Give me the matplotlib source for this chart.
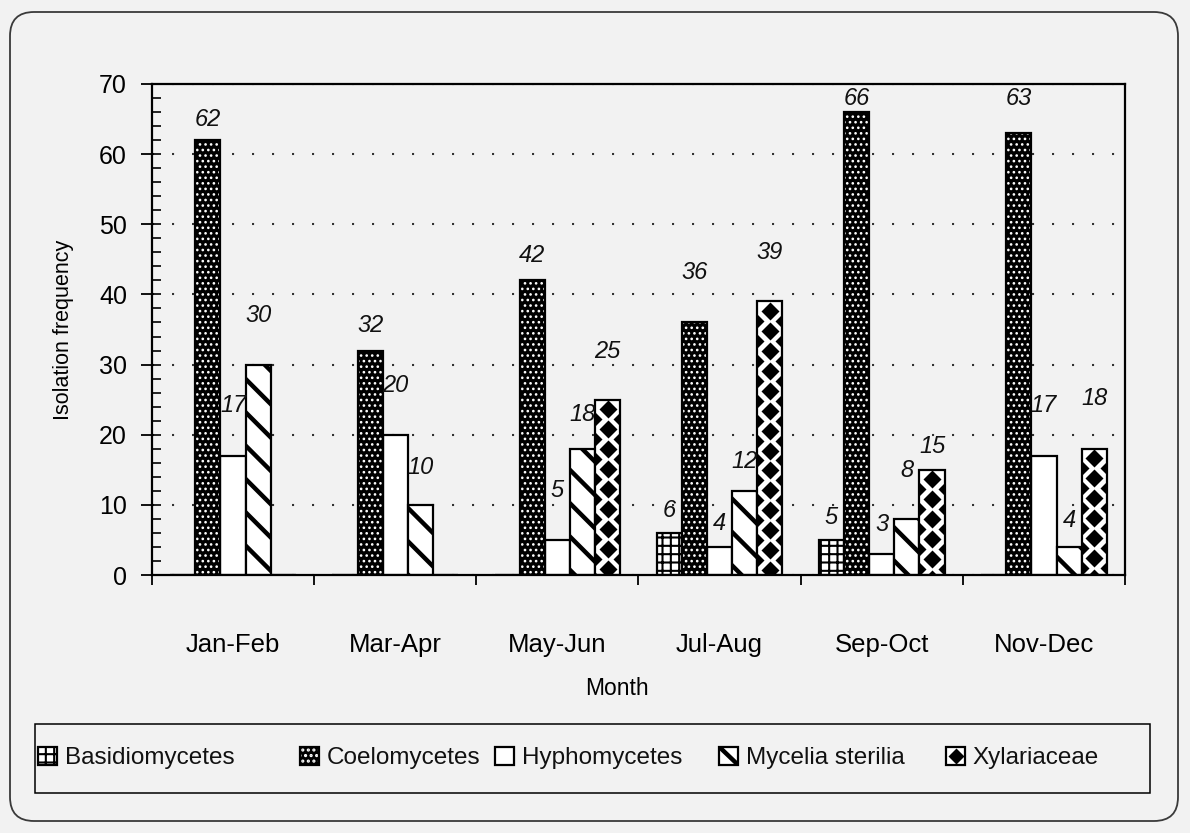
import numpy as np
import matplotlib
matplotlib.use("Agg")
import matplotlib.pyplot as plt
from matplotlib.patches import FancyBboxPatch, Rectangle
from matplotlib.lines import Line2D
from matplotlib.legend_handler import HandlerTuple, HandlerBase
from matplotlib.ticker import MultipleLocator, FixedLocator
from matplotlib.transforms import IdentityTransform

# ---- data -------------------------------------------------------------
months = ["Jan-Feb", "Mar-Apr", "May-Jun", "Jul-Aug", "Sep-Oct", "Nov-Dec"]
series_names = ["Basidiomycetes", "Coelomycetes", "Hyphomycetes",
                "Mycelia sterilia", "Xylariaceae"]
basidiomycetes = [0, 0, 0, 6, 5, 0]
coelomycetes = [62, 32, 42, 36, 66, 63]
hyphomycetes = [17, 20, 5, 4, 3, 17]
mycelia_sterilia = [30, 10, 18, 12, 8, 4]
xylariaceae = [0, 0, 25, 39, 15, 18]

# how far (in y units) each value label sits above its bar
label_lift = [
    [0, 0, 0, 3.2, 3.2, 0],
    [2.9, 3.5, 3.6, 7.1, 1.9, 4.9],
    [7.1, 7.0, 7.0, 3.3, 4.2, 7.1],
    [7.0, 5.3, 4.9, 4.2, 6.9, 3.8],
    [0, 0, 6.9, 7.0, 3.3, 7.1],
]

BG = "#f2f2f2"
plt.rcParams["font.family"] = ["Liberation Sans", "DejaVu Sans"]
plt.rcParams["text.color"] = "#111111"

fig = plt.figure(figsize=(11.9, 8.33), dpi=100, facecolor=BG)
ax = fig.add_axes([0.1277, 0.3097, 0.8177, 0.5895], facecolor=BG)

x = np.arange(len(months))
w = 0.155
offsets = (np.arange(5) - 2) * w


def hatched_bar(xpos, vals, face, edge, hatch, hatch_lw, **kw):
    with plt.rc_context({"hatch.linewidth": hatch_lw}):
        bars = ax.bar(xpos, vals, w, facecolor=face, edgecolor=edge,
                      hatch=hatch, zorder=2, **kw)
    for p in bars.patches:
        if hasattr(p, "set_hatch_linewidth"):
            p.set_hatch_linewidth(hatch_lw)
    return bars


# Basidiomycetes: square grid
b_basid = hatched_bar(x + offsets[0], basidiomycetes, "white", "black", "++", 1.5,
                      linewidth=1.6)
# Coelomycetes: black with white dots, then a black outline on top
b_coel = hatched_bar(x + offsets[1], coelomycetes, "black", "white", "...", 1.1,
                     linewidth=0)
b_coel_out = ax.bar(x + offsets[1], coelomycetes, w, fill=False,
                    edgecolor="black", linewidth=1.6, zorder=3)
# Hyphomycetes: plain white
b_hypho = ax.bar(x + offsets[2], hyphomycetes, w, facecolor="white",
                 edgecolor="black", linewidth=1.6, zorder=2)
# Mycelia sterilia: thick back-diagonal stripes
b_myc = hatched_bar(x + offsets[3], mycelia_sterilia, "white", "black", "\\", 3.2,
                    linewidth=1.6)
# Xylariaceae: white with a column of diamonds
b_xyl = ax.bar(x + offsets[4], xylariaceae, w, facecolor="white",
               edgecolor="black", linewidth=1.6, zorder=2)

step = 2.85
for patch, xc, v in zip(b_xyl.patches, x + offsets[4], xylariaceae):
    if v <= 0:
        continue
    ys = np.arange(v - 1.3, 0 - step, -step)
    centre, = ax.plot(np.full_like(ys, xc), ys, ls="none", marker="D",
                      ms=9.6, color="black", mec="none", zorder=2.5)
    centre.set_clip_path(patch)
    ys_e = ys - step / 2
    for side in (-1, 1):
        edge, = ax.plot(np.full_like(ys_e, xc + side * w / 2), ys_e, ls="none",
                        marker="D", ms=7.0, color="black", mec="none", zorder=2.5)
        edge.set_clip_path(patch)

# value labels
all_series = [basidiomycetes, coelomycetes, hyphomycetes, mycelia_sterilia, xylariaceae]
for s, vals in enumerate(all_series):
    for i, v in enumerate(vals):
        if v <= 0:
            continue
        ax.text(x[i] + offsets[s], v + label_lift[s][i], f"{v}", ha="center",
                va="center", fontsize=17, style="italic", zorder=4)

# axes styling
ax.set_xlim(-0.5, len(months) - 0.5)
ax.set_ylim(0, 70)
ax.yaxis.set_major_locator(MultipleLocator(10))
ax.yaxis.set_minor_locator(MultipleLocator(2))
ax.yaxis.remove_overlapping_locs = False
ax.tick_params(axis="y", which="major", direction="out", length=8, width=1.3,
               labelsize=18, pad=10)
ax.tick_params(axis="y", which="minor", direction="in", length=6.5, width=1.2)

ax.set_xticks(x)
ax.set_xticklabels(months)
ax.xaxis.set_minor_locator(FixedLocator(np.arange(-0.5, len(months), 1.0)))
ax.tick_params(axis="x", which="major", length=0, labelsize=18.5, pad=42)
ax.tick_params(axis="x", which="minor", direction="out", length=7.5, width=1.3)

for sp in ax.spines.values():
    sp.set_linewidth(1.6)
    sp.set_color("black")

ax.set_axisbelow(True)
ax.yaxis.grid(True, which="major", linestyle=(0, (1, 8.6)), linewidth=1.5,
              color="#333333")

ax.set_xlabel("Month", fontsize=16.5, labelpad=14, x=0.478)
ax.set_ylabel("Isolation frequency", fontsize=15.5, labelpad=18)


# ---- legend -------------------------------------------------------------
class DiagonalKey(HandlerBase):
    """White key box crossed by one thick back-diagonal stripe."""

    def create_artists(self, legend, orig_handle, xdescent, ydescent,
                       width, height, fontsize, trans):
        x0, y0 = -xdescent, -ydescent
        box = Rectangle((x0, y0), width, height, facecolor="white",
                        edgecolor="black", linewidth=1.6, transform=trans)
        stripe = Line2D([x0, x0 + width], [y0 + height, y0], color="black",
                        linewidth=3.2, solid_capstyle="butt", transform=trans)
        stripe.set_clip_path(box)
        return [box, stripe]


fig.patches.append(Rectangle((35, 833 - 793), 1150 - 35, 793 - 724,
                             transform=IdentityTransform(), facecolor=BG,
                             edgecolor="black", linewidth=1.1, zorder=0))
h_coel = (Rectangle((0, 0), 1, 1, facecolor="black", edgecolor="white",
                    hatch="...", linewidth=0),
          Rectangle((0, 0), 1, 1, fill=False, edgecolor="black", linewidth=1.6))
h_xyl = (Rectangle((0, 0), 1, 1, facecolor="white", edgecolor="black", linewidth=1.6),
         Line2D([], [], ls="none", marker="D", ms=8.5, color="black", mec="none"))
handles = [b_basid, h_coel, b_hypho, b_myc, h_xyl]
key_left_px = [38, 300, 495, 719, 946]
handler_map = {tuple: HandlerTuple(ndivide=1, pad=0), b_myc: DiagonalKey()}

with plt.rc_context({"hatch.linewidth": 1.5}):
    for handle, name, left in zip(handles, series_names, key_left_px):
        fig.legend([handle], [name], loc="center left",
                   bbox_to_anchor=(left / 1190, 1 - 758 / 833),
                   frameon=False, fontsize=17.5, handlelength=0.8,
                   handleheight=0.8, handletextpad=0.3, borderaxespad=0,
                   borderpad=0, handler_map=handler_map)

# rounded outer border of the chart area
fig.patches.append(FancyBboxPatch((10, 12), 1168, 809,
                                  boxstyle="round,pad=0,rounding_size=24",
                                  transform=IdentityTransform(), fill=False,
                                  edgecolor="#3a3a3a", linewidth=1.3))

fig.savefig("out.png", dpi=100, facecolor=BG)
